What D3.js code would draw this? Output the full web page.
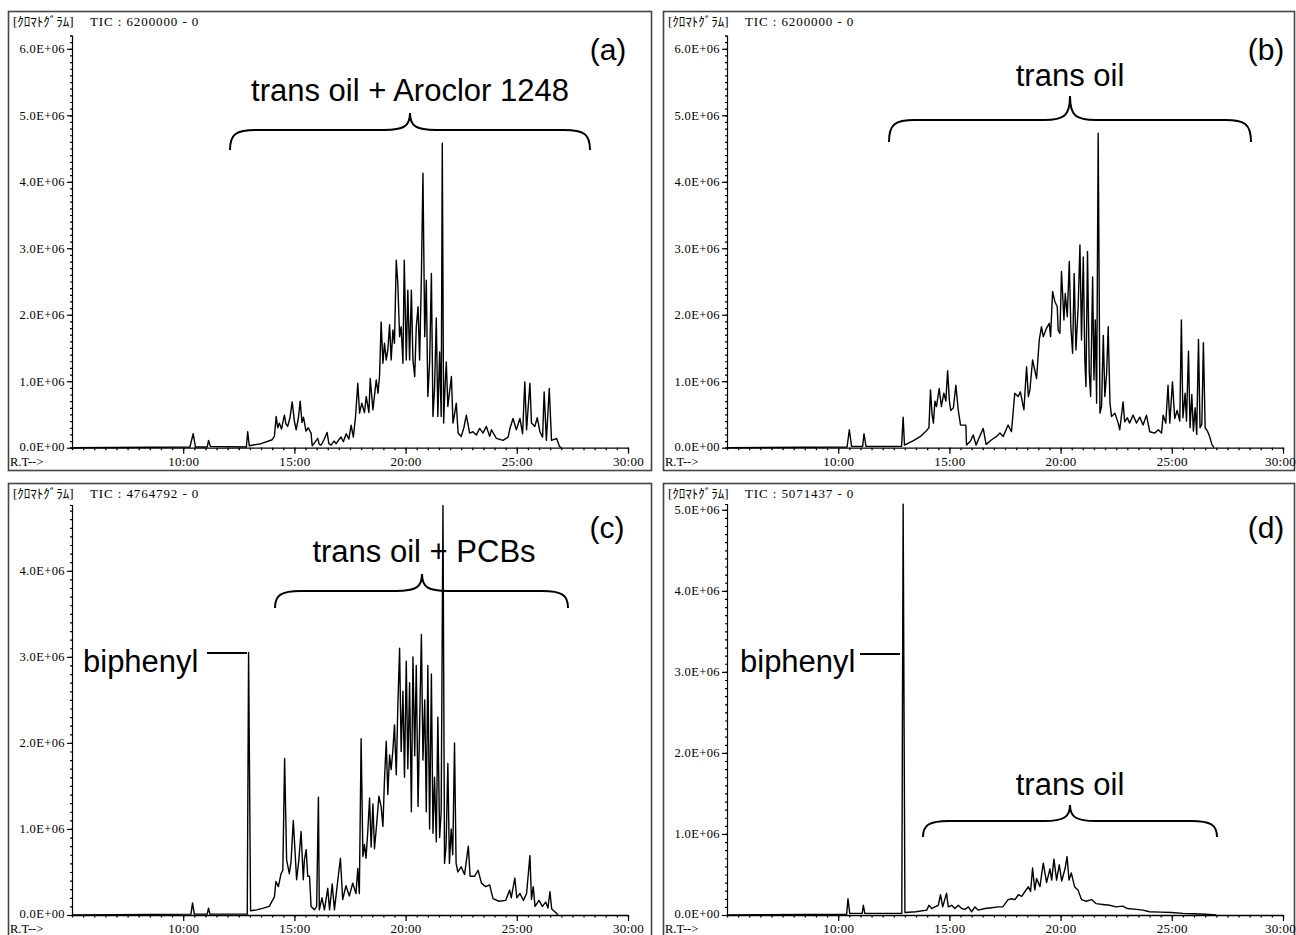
<!DOCTYPE html>
<html>
<head>
<meta charset="utf-8">
<script src="https://cdn.jsdelivr.net/npm/d3@7"></script>
<style>
body { margin: 0; background: #fff; }
svg { display: block; }
</style>
</head>
<body>
<div id="chart"></div>
<script>
// panel tags and TIC full-scale values
var panelNames = ["(a)", "(b)", "(c)", "(d)"];
var ticMax = [6200000, 6200000, 4764792, 5071437];

// retention-time axis
var xTickTimes = [10, 15, 20, 25, 30];
var xTickLabels = ["10:00", "15:00", "20:00", "25:00", "30:00"];

// intensity axis (values in units of 1E6 counts)
var yTicksAB = [0, 1, 2, 3, 4, 5, 6];
var yLabelsAB = ["0.0E+00", "1.0E+06", "2.0E+06", "3.0E+06", "4.0E+06", "5.0E+06", "6.0E+06"];
var yTicksC = [0, 1, 2, 3, 4];
var yLabelsC = ["0.0E+00", "1.0E+06", "2.0E+06", "3.0E+06", "4.0E+06"];
var yTicksD = [0, 1, 2, 3, 4, 5];
var yLabelsD = ["0.0E+00", "1.0E+06", "2.0E+06", "3.0E+06", "4.0E+06", "5.0E+06"];

// chromatograms: [retention time (min), TIC (1E6)]
var traceA = [[5,0],[10.3,0.01],[10.45,0.21],[10.55,0.01],[11.08,0.01],[11.14,0.11],[11.22,0.02],[12.84,0.01],[12.9,0.24],[12.97,0.03],
  [13.5,0.06],[14.0,0.12],[14.1,0.17],[14.18,0.47],[14.25,0.3],[14.32,0.37],[14.42,0.28],[14.55,0.49],[14.62,0.36],[14.7,0.32],
  [14.8,0.45],[14.9,0.69],[15.0,0.4],[15.08,0.27],[15.18,0.45],[15.26,0.7],[15.34,0.38],[15.41,0.46],[15.52,0.25],[15.62,0.3],
  [15.75,0.22],[15.8,0.03],[15.92,0.08],[16.05,0.14],[16.12,0.05],[16.2,0.04],[16.33,0.12],[16.47,0.23],[16.55,0.06],[16.65,0.04],
  [16.78,0.1],[16.88,0.06],[17.0,0.12],[17.1,0.16],[17.2,0.09],[17.33,0.21],[17.45,0.13],[17.55,0.34],[17.65,0.16],[17.75,0.47],
  [17.85,0.97],[17.93,0.52],[18.03,0.67],[18.15,0.53],[18.23,0.77],[18.35,0.53],[18.41,1.04],[18.53,0.57],[18.68,1.02],[18.76,0.82],
  [18.83,1.09],[18.9,1.89],[18.98,1.27],[19.05,1.57],[19.13,1.32],[19.2,1.47],[19.28,1.85],[19.35,1.32],[19.43,1.77],[19.5,1.57],
  [19.58,2.82],[19.65,2.47],[19.73,1.67],[19.8,1.82],[19.88,1.27],[19.94,2.82],[20.03,1.32],[20.1,2.37],[20.18,1.32],[20.26,2.37],
  [20.33,1.32],[20.41,1.07],[20.48,1.82],[20.56,2.12],[20.63,1.32],[20.71,2.57],[20.78,4.13],[20.86,1.67],[20.93,2.52],[21.0,0.77],
  [21.08,1.27],[21.16,2.62],[21.23,0.47],[21.3,0.87],[21.38,1.95],[21.45,0.47],[21.53,1.44],[21.6,0.47],[21.65,4.58],[21.71,0.37],
  [21.77,0.9],[21.83,1.29],[21.9,0.62],[21.98,0.85],[22.06,1.07],[22.13,0.37],[22.2,0.5],[22.28,0.67],[22.36,0.22],[22.5,0.17],
  [22.62,0.3],[22.73,0.49],[22.88,0.22],[23.03,0.24],[23.18,0.19],[23.33,0.29],[23.48,0.22],[23.63,0.32],[23.78,0.17],[23.86,0.27],
  [24.08,0.14],[24.38,0.11],[24.61,0.16],[24.7,0.3],[24.83,0.44],[24.98,0.27],[25.14,0.44],[25.26,0.21],[25.36,0.99],[25.44,0.27],
  [25.59,0.97],[25.66,0.37],[25.81,0.32],[25.92,0.45],[26.04,0.24],[26.16,0.16],[26.23,0.84],[26.33,0.11],[26.46,0.89],[26.56,0.11],
  [26.79,0.14],[26.92,0.02],[27.0,0]];

var traceB = [[5,0],[10.4,0.01],[10.5,0.27],[10.6,0.02],[11.1,0.02],[11.16,0.21],[11.25,0.02],[12.85,0.02],[12.92,0.46],[12.98,0.04],
  [13.4,0.11],[13.7,0.17],[13.98,0.26],[14.08,0.3],[14.15,0.87],[14.22,0.5],[14.28,0.37],[14.35,0.7],[14.42,0.62],[14.54,0.89],
  [14.64,0.62],[14.75,0.82],[14.84,0.7],[14.92,1.16],[15.0,0.7],[15.06,0.56],[15.18,0.6],[15.29,0.94],[15.4,0.56],[15.5,0.34],
  [15.74,0.34],[15.77,0.04],[15.95,0.1],[16.07,0.19],[16.2,0.04],[16.35,0.16],[16.52,0.29],[16.65,0.05],[16.9,0.12],[17.12,0.17],
  [17.27,0.22],[17.42,0.17],[17.64,0.34],[17.79,0.24],[17.94,0.82],[18.09,0.77],[18.19,0.84],[18.35,0.57],[18.47,1.22],[18.55,0.77],
  [18.62,0.87],[18.74,1.32],[18.92,1.04],[19.04,1.62],[19.14,1.82],[19.22,1.67],[19.37,1.8],[19.49,1.87],[19.55,1.67],[19.64,2.35],
  [19.74,2.2],[19.85,2.12],[19.89,1.77],[19.97,1.72],[20.04,2.65],[20.15,1.92],[20.21,2.32],[20.3,1.97],[20.39,2.8],[20.46,1.82],
  [20.54,1.42],[20.61,2.62],[20.69,1.47],[20.79,2.12],[20.87,3.05],[20.94,1.62],[21.02,2.87],[21.09,1.32],[21.14,0.92],[21.21,2.95],
  [21.29,1.12],[21.35,0.77],[21.44,2.57],[21.5,1.02],[21.56,1.92],[21.62,0.67],[21.69,4.73],[21.77,0.52],[21.84,0.62],[21.92,1.69],
  [21.99,0.77],[22.07,1.12],[22.14,1.82],[22.22,0.67],[22.29,0.47],[22.44,0.52],[22.59,0.37],[22.66,0.27],[22.81,0.69],[22.88,0.39],
  [23.0,0.45],[23.1,0.37],[23.26,0.49],[23.41,0.37],[23.56,0.46],[23.71,0.34],[23.86,0.49],[24.01,0.24],[24.24,0.22],[24.39,0.27],
  [24.54,0.22],[24.61,0.49],[24.73,0.37],[24.83,0.94],[24.91,0.37],[25.03,0.99],[25.13,0.44],[25.24,0.56],[25.36,0.4],[25.43,1.92],
  [25.5,0.45],[25.6,0.82],[25.66,0.4],[25.75,1.45],[25.82,0.3],[25.9,0.8],[25.97,0.25],[26.05,0.6],[26.12,0.2],[26.2,1.63],
  [26.27,0.3],[26.35,0.35],[26.42,1.58],[26.5,0.3],[26.6,0.25],[26.7,0.17],[26.8,0.05],[26.9,0]];

var traceC = [[5,0],[10.35,0.01],[10.42,0.14],[10.5,0.01],[11.08,0.01],[11.14,0.08],[11.2,0.01],[12.88,0.01],[12.94,3.05],[13.03,0.05],
  [13.3,0.06],[13.6,0.08],[13.87,0.1],[14.1,0.21],[14.17,0.39],[14.28,0.33],[14.4,0.48],[14.48,0.52],[14.56,1.82],[14.65,0.64],
  [14.77,0.48],[14.85,0.62],[14.95,1.1],[15.1,0.41],[15.2,0.64],[15.3,0.97],[15.4,0.41],[15.45,0.64],[15.53,0.76],[15.6,0.45],
  [15.68,0.45],[15.75,0.1],[15.9,0.06],[16.0,0.1],[16.08,1.37],[16.12,0.06],[16.24,0.2],[16.35,0.06],[16.5,0.31],[16.58,0.06],
  [16.7,0.36],[16.8,0.06],[16.95,0.4],[17.07,0.66],[17.17,0.18],[17.32,0.34],[17.47,0.22],[17.62,0.37],[17.77,0.25],[17.85,0.54],
  [17.92,0.25],[18.0,2.05],[18.08,0.68],[18.15,0.82],[18.22,0.66],[18.3,0.97],[18.38,1.36],[18.45,0.79],[18.53,1.29],[18.6,0.77],
  [18.68,1.0],[18.8,1.38],[18.9,1.26],[18.98,1.03],[19.05,1.57],[19.13,2.02],[19.2,1.4],[19.28,1.86],[19.35,1.69],[19.43,1.92],
  [19.5,2.21],[19.58,1.63],[19.65,2.42],[19.73,3.1],[19.8,1.9],[19.88,2.6],[19.95,1.6],[20.03,2.95],[20.1,1.7],[20.18,2.7],
  [20.26,1.2],[20.33,3.0],[20.41,1.85],[20.48,2.9],[20.56,1.26],[20.63,2.2],[20.71,3.26],[20.78,1.8],[20.86,2.5],[20.93,1.2],
  [21.0,2.9],[21.08,1.0],[21.16,2.8],[21.23,0.95],[21.3,1.6],[21.38,0.85],[21.45,2.3],[21.53,0.9],[21.6,1.2],[21.68,4.76],
  [21.75,0.6],[21.82,0.8],[21.9,1.76],[21.97,0.6],[22.05,1.0],[22.12,0.7],[22.2,2.0],[22.27,0.6],[22.35,0.5],[22.5,0.56],
  [22.65,0.47],[22.82,0.8],[22.9,0.45],[23.1,0.45],[23.26,0.52],[23.41,0.37],[23.6,0.33],[23.78,0.35],[23.93,0.19],[24.2,0.16],
  [24.5,0.17],[24.68,0.29],[24.75,0.2],[24.91,0.43],[25.0,0.2],[25.14,0.25],[25.3,0.17],[25.44,0.25],[25.59,0.69],[25.66,0.18],
  [25.74,0.33],[25.82,0.1],[26.0,0.17],[26.15,0.1],[26.3,0.15],[26.4,0.08],[26.49,0.27],[26.57,0.07],[26.75,0.03],[26.85,0]];

var traceD = [[5,0],[10.38,0.01],[10.44,0.2],[10.52,0.02],[11.08,0.02],[11.13,0.12],[11.2,0.02],[12.86,0.02],[12.92,5.07],[13.0,0.03],
  [13.5,0.04],[13.98,0.06],[14.08,0.12],[14.2,0.08],[14.35,0.1],[14.5,0.12],[14.6,0.25],[14.7,0.1],[14.87,0.27],[14.95,0.1],
  [15.1,0.12],[15.25,0.08],[15.4,0.12],[15.55,0.08],[15.7,0.07],[15.85,0.1],[16.0,0.04],[16.15,0.1],[16.3,0.06],[16.6,0.08],
  [16.9,0.09],[17.2,0.1],[17.4,0.1],[17.64,0.19],[17.8,0.2],[17.95,0.19],[18.1,0.25],[18.25,0.23],[18.4,0.29],[18.55,0.35],
  [18.65,0.29],[18.74,0.58],[18.84,0.31],[18.92,0.45],[19.07,0.35],[19.22,0.64],[19.37,0.4],[19.52,0.57],[19.6,0.43],[19.7,0.69],
  [19.82,0.43],[19.94,0.62],[20.05,0.42],[20.2,0.57],[20.29,0.72],[20.38,0.43],[20.48,0.52],[20.63,0.35],[20.78,0.31],[20.94,0.19],
  [21.15,0.17],[21.4,0.19],[21.6,0.14],[21.9,0.13],[22.2,0.12],[22.5,0.1],[22.8,0.11],[23.0,0.08],[23.4,0.07],[23.7,0.06],
  [24.0,0.04],[24.5,0.035],[25.0,0.03],[25.5,0.02],[26.0,0.015],[26.5,0.01],[27.0,0]];

var traces = [traceA, traceB, traceC, traceD];
var yTicks = [yTicksAB, yTicksAB, yTicksC, yTicksD];
var yLabels = [yLabelsAB, yLabelsAB, yLabelsC, yLabelsD];

// frame and plot-area placement for each panel
var layout = [
  {fx: 8.5, fy: 11.5, fw: 643, fh: 459, x0: 72, x1: 628, yb: 447.7, yt: 35.5, rt: 466},
  {fx: 663.5, fy: 11.5, fw: 631, fh: 459, x0: 727, x1: 1283, yb: 447.7, yt: 35.5, rt: 466},
  {fx: 8.5, fy: 483.5, fw: 643, fh: 459, x0: 72, x1: 628, yb: 915, yt: 505, rt: 932.5},
  {fx: 663.5, fy: 483.5, fw: 631, fh: 459, x0: 727, x1: 1283, yb: 915, yt: 504, rt: 932.5}
];

// annotations (pixel positions)
var notes = [
  {tag: [608, 60], title: "trans oil + Aroclor 1248", tx: 410, ty: 101, brace: [230, 410, 590, 150, 130, 113]},
  {tag: [1266, 60], title: "trans oil", tx: 1070, ty: 86, brace: [889, 1070, 1251, 142, 120, 96]},
  {tag: [607, 538], title: "trans oil + PCBs", tx: 424, ty: 562, brace: [275, 422, 568, 608, 591, 574], bip: [83, 672, 207, 653]},
  {tag: [1266, 538], title: "trans oil", tx: 1070, ty: 795, brace: [923, 1070, 1217, 837, 821, 805], bip: [740, 672, 860, 654]}
];

var svg = d3.select("#chart").append("svg")
  .attr("width", 1296)
  .attr("height", 935);

var monoFont = "'Liberation Serif', 'Noto Sans CJK JP', serif";
var annFont = "'Liberation Sans', Arial, sans-serif";

function bracePath(b) {
  var x0 = b[0], xm = b[1], x1 = b[2], ye = b[3], yh = b[4], yt = b[5];
  var r = 26;
  return "M" + x0 + "," + ye +
    "C" + x0 + "," + (yh + 4) + " " + (x0 + 6) + "," + yh + " " + (x0 + r) + "," + yh +
    "L" + (xm - r) + "," + yh +
    "C" + (xm - 6) + "," + yh + " " + xm + "," + (yh - 4) + " " + xm + "," + yt +
    "C" + xm + "," + (yh - 4) + " " + (xm + 6) + "," + yh + " " + (xm + r) + "," + yh +
    "L" + (x1 - r) + "," + yh +
    "C" + (x1 - 6) + "," + yh + " " + x1 + "," + (yh + 4) + " " + x1 + "," + ye;
}

function drawPanel(i) {
  var L = layout[i];
  var g = svg.append("g");

  g.append("rect")
    .attr("x", L.fx).attr("y", L.fy)
    .attr("width", L.fw).attr("height", L.fh)
    .attr("fill", "none")
    .attr("stroke", "#444")
    .attr("stroke-width", 1.6);

  var x = d3.scaleLinear().domain([5, 30]).range([L.x0, L.x1]);
  var y = d3.scaleLinear().domain([0, ticMax[i] / 1e6]).range([L.yb, L.yt]);

  // header
  g.append("text")
    .attr("x", L.fx + 4.5).attr("y", L.fy + 14.5)
    .attr("font-family", monoFont).attr("font-size", "13px")
    .text("[ｸﾛﾏﾄｸﾞﾗﾑ]");
  g.append("text")
    .attr("x", L.fx + 81.5).attr("y", L.fy + 14.5)
    .attr("font-family", monoFont).attr("font-size", "13px")
    .attr("letter-spacing", "0.9px")
    .style("white-space", "pre")
    .text("TIC : " + ticMax[i] + " - 0");

  // minor y ticks
  var minorY = d3.range(0, ticMax[i] / 1e6 + 1e-9, 0.1);
  g.append("g")
    .attr("transform", "translate(" + L.x0 + ",0)")
    .call(d3.axisLeft(y).tickValues(minorY).tickSize(2).tickSizeOuter(2).tickFormat(""))
    .call(function (s) { s.selectAll("path,line").attr("stroke", "#000").attr("stroke-width", 1.2); });

  // major y ticks
  var ya = g.append("g")
    .attr("transform", "translate(" + L.x0 + ",0)")
    .call(d3.axisLeft(y).tickValues(yTicks[i]).tickSize(5).tickSizeOuter(0).tickPadding(2)
      .tickFormat(function (d, k) { return yLabels[i][k]; }));
  ya.select(".domain").remove();
  ya.selectAll("text").attr("font-family", monoFont).attr("font-size", "12.5px")
    .attr("letter-spacing", "0.4px").attr("fill", "#000")
    .attr("dy", function (d) { return d === 0 ? "0.2em" : "0.32em"; });
  ya.selectAll("line").attr("stroke", "#000").attr("stroke-width", 1.2);

  // minor x ticks
  var minorX = d3.range(5, 30.01, 0.5);
  g.append("g")
    .attr("transform", "translate(0," + L.yb + ")")
    .call(d3.axisBottom(x).tickValues(minorX).tickSize(2.5).tickSizeOuter(0).tickFormat(""))
    .call(function (s) { s.selectAll("path,line").attr("stroke", "#000").attr("stroke-width", 1.3); });

  // major x ticks
  var xa = g.append("g")
    .attr("transform", "translate(0," + L.yb + ")")
    .call(d3.axisBottom(x).tickValues(xTickTimes).tickSize(6).tickSizeOuter(0).tickPadding(3)
      .tickFormat(function (d, k) { return xTickLabels[k]; }));
  xa.select(".domain").remove();
  xa.selectAll("text").attr("font-family", monoFont).attr("font-size", "13px")
    .attr("letter-spacing", "0.3px").attr("fill", "#000")
    .attr("dy", null)
    .attr("y", L.rt - L.yb)
    .attr("dx", function (d) { return d === 30 && L.x1 > 1200 ? "-3px" : null; });
  xa.selectAll("line").attr("stroke", "#000").attr("stroke-width", 1.2);

  g.append("text")
    .attr("x", L.fx + 1.5).attr("y", L.rt)
    .attr("font-family", monoFont).attr("font-size", "12.5px")
    .text("R.T-->");

  // chromatogram trace
  var line = d3.line()
    .x(function (d) { return x(d[0]); })
    .y(function (d) { return y(d[1]); });
  g.append("path")
    .datum(traces[i])
    .attr("d", line)
    .attr("fill", "none")
    .attr("stroke", "#000")
    .attr("stroke-width", 1.4)
    .attr("stroke-linejoin", "round");

  // annotations
  var n = notes[i];
  g.append("text")
    .attr("x", n.tag[0]).attr("y", n.tag[1])
    .attr("text-anchor", "middle")
    .attr("font-family", annFont).attr("font-size", "30px")
    .text(panelNames[i]);
  g.append("text")
    .attr("x", n.tx).attr("y", n.ty)
    .attr("text-anchor", "middle")
    .attr("font-family", annFont).attr("font-size", "31px")
    .text(n.title);
  g.append("path")
    .attr("d", bracePath(n.brace))
    .attr("fill", "none")
    .attr("stroke", "#000")
    .attr("stroke-width", 2);
  if (n.bip) {
    g.append("text")
      .attr("x", n.bip[0]).attr("y", n.bip[1])
      .attr("font-family", annFont).attr("font-size", "31px")
      .text("biphenyl");
    g.append("line")
      .attr("x1", n.bip[2]).attr("x2", n.bip[2] + 40)
      .attr("y1", n.bip[3]).attr("y2", n.bip[3])
      .attr("stroke", "#000").attr("stroke-width", 2);
  }
}

for (var i = 0; i < 4; i++) drawPanel(i);
</script>
</body>
</html>
